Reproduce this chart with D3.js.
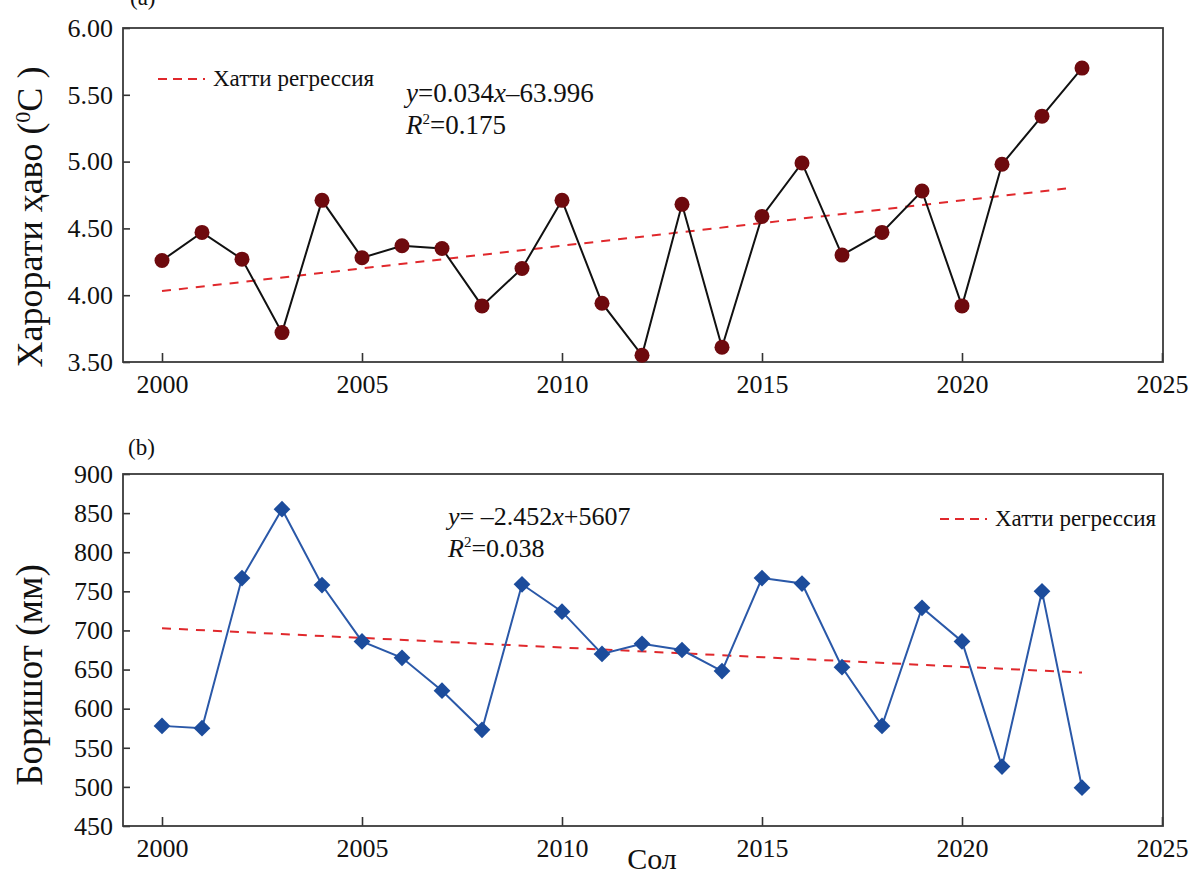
<!DOCTYPE html>
<html>
<head>
<meta charset="utf-8">
<script src="https://cdn.jsdelivr.net/npm/d3@7"></script>
<style>
  body { margin: 0; background: #fff; }
  svg { display: block; }
  svg text { font-family: "Times New Roman", "Liberation Serif", "DejaVu Serif", serif; }
</style>
</head>
<body>
<svg width="1194" height="874"></svg>
<script>
// Years on the x axis (both panels share them)
const years = [2000, 2001, 2002, 2003, 2004, 2005, 2006, 2007, 2008, 2009, 2010, 2011,
               2012, 2013, 2014, 2015, 2016, 2017, 2018, 2019, 2020, 2021, 2022, 2023]
// (a) mean air temperature, degC
const temperature = [4.26, 4.47, 4.27, 3.72, 4.71, 4.28, 4.37, 4.35, 3.92, 4.20, 4.71, 3.94,
                     3.55, 4.68, 3.61, 4.59, 4.99, 4.30, 4.47, 4.78, 3.92, 4.98, 5.34, 5.70]
// (b) precipitation, mm
const precipitation = [578, 575, 767, 855, 758, 686, 665, 623, 573, 759, 724, 670,
                       683, 675, 648, 767, 760, 653, 578, 729, 686, 526, 750, 499]

const yearTicks = [2000, 2005, 2010, 2015, 2020, 2025]
const tempTicks = [3.5, 4.0, 4.5, 5.0, 5.5, 6.0]
const precipTicks = [450, 500, 550, 600, 650, 700, 750, 800, 850, 900]

const legendLabel = 'Хатти регрессия'
const tempEquation = ['=0.034', '–63.996', '0.175']
const precipEquation = ['= –2.452', '+5607', '0.038']
// where the fitted line starts and stops
const tempFitYears = [2000, 2022.6]
const precipFitYears = [2000, 2023]

const serif = '"Times New Roman", "Liberation Serif", "DejaVu Serif", serif'
const svg = d3.select('svg').attr('font-family', serif)
const left = 123, right = 1163
const x = d3.scaleLinear().domain([1999.025, 2025.025]).range([left, right])

const red = '#e0282c'

// least squares line through a series
function fit(xs, ys) {
  const mx = d3.mean(xs), my = d3.mean(ys)
  const slope = d3.sum(xs, (v, i) => (v - mx) * (ys[i] - my)) / d3.sum(xs, v => (v - mx) ** 2)
  return v => my + slope * (v - mx)
}

function drawPanel(opts) {
  const y = d3.scaleLinear().domain(opts.domain).range([opts.bottom, opts.top])
  const g = svg.append('g')

  // axes, ticks pointing into the plot
  const ax = g.append('g')
    .attr('transform', 'translate(' + left + ',0)')
    .call(d3.axisLeft(y).tickValues(opts.ticks).tickFormat(opts.format)
      .tickSizeInner(-7).tickSizeOuter(0).tickPadding(10))
  const bx = g.append('g')
    .attr('transform', 'translate(0,' + opts.bottom + ')')
    .call(d3.axisBottom(x).tickValues(yearTicks).tickFormat(d3.format('d'))
      .tickSizeInner(-9).tickSizeOuter(0).tickPadding(13))
  ;[ax, bx].forEach(a => {
    a.select('.domain').remove()
    a.attr('font-family', serif).attr('font-size', 26)
    a.selectAll('line').attr('stroke', '#333').attr('stroke-width', 1.6)
    a.selectAll('text').attr('fill', '#111').attr('font-family', serif)
  })

  // frame
  g.append('rect')
    .attr('x', left).attr('y', opts.top)
    .attr('width', right - left).attr('height', opts.bottom - opts.top)
    .attr('fill', 'none').attr('stroke', '#3a3a3a').attr('stroke-width', 1.8)

  // regression line
  const f = fit(years, opts.values)
  g.append('line')
    .attr('x1', x(opts.fitYears[0])).attr('y1', y(f(opts.fitYears[0])))
    .attr('x2', x(opts.fitYears[1])).attr('y2', y(f(opts.fitYears[1])))
    .attr('stroke', red).attr('stroke-width', 2).attr('stroke-dasharray', '9,8')

  // data line
  const line = d3.line().x((d, i) => x(years[i])).y(d => y(d))
  g.append('path')
    .datum(opts.values)
    .attr('d', line)
    .attr('fill', 'none').attr('stroke', opts.lineColor).attr('stroke-width', 2)

  opts.markers(g, y)

  // legend
  g.append('line')
    .attr('x1', opts.legend[0]).attr('x2', opts.legend[0] + 47)
    .attr('y1', opts.legend[1]).attr('y2', opts.legend[1])
    .attr('stroke', red).attr('stroke-width', 2).attr('stroke-dasharray', '9,6')
  g.append('text')
    .attr('x', opts.legend[0] + 55).attr('y', opts.legend[1] + 7)
    .attr('font-size', 23).attr('fill', '#111')
    .text(legendLabel)

  // equation and R2
  const eq = g.append('text').attr('x', opts.eq[0]).attr('y', opts.eq[1])
    .attr('font-size', opts.eqSize).attr('fill', '#111')
  eq.append('tspan').attr('font-style', 'italic').text('y')
  eq.append('tspan').text(opts.equation[0])
  eq.append('tspan').attr('font-style', 'italic').text('x')
  eq.append('tspan').text(opts.equation[1])
  const r2 = g.append('text').attr('x', opts.eq[0]).attr('y', opts.eq[1] + 32)
    .attr('font-size', opts.eqSize).attr('fill', '#111')
  r2.append('tspan').attr('font-style', 'italic').text('R')
  r2.append('tspan').attr('font-size', 15).attr('dy', -10).text('2')
  r2.append('tspan').attr('dy', 10).text('=' + opts.equation[2])

  return g
}

// (a) temperature
drawPanel({
  top: 28, bottom: 362, domain: [3.5, 6.0], ticks: tempTicks, format: d3.format('.2f'),
  values: temperature, fitYears: tempFitYears, lineColor: '#111',
  legend: [158, 79], eq: [406, 102], eqSize: 27,
  equation: tempEquation,
  markers: (g, y) => {
    g.selectAll('.dot')
      .data(temperature)
      .enter()
      .append('circle')
        .attr('class', 'dot')
        .attr('cx', (d, i) => x(years[i]))
        .attr('cy', d => y(d))
        .attr('r', 7.5)
        .attr('fill', '#6e0a0e')
  }
})

// (b) precipitation
drawPanel({
  top: 474, bottom: 826, domain: [450, 900], ticks: precipTicks, format: d3.format('d'),
  values: precipitation, fitYears: precipFitYears, lineColor: '#2a58a8',
  legend: [940, 519], eq: [448, 525], eqSize: 26,
  equation: precipEquation,
  markers: (g, y) => {
    g.selectAll('.diamond')
      .data(precipitation)
      .enter()
      .append('path')
        .attr('class', 'diamond')
        .attr('d', d3.symbol(d3.symbolSquare, 140))
        .attr('transform', (d, i) => 'translate(' + x(years[i]) + ',' + y(d) + ') rotate(45)')
        .attr('fill', '#1c4c9c')
  }
})

// panel letters
svg.append('text').attr('x', 130).attr('y', 5).attr('font-size', 23).attr('fill', '#111').text('(a)')
svg.append('text').attr('x', 128).attr('y', 455).attr('font-size', 23).attr('fill', '#111').text('(b)')

// axis titles
const tTitle = svg.append('text')
  .attr('transform', 'translate(42,217) rotate(-90)')
  .attr('text-anchor', 'middle').attr('font-size', 36).attr('fill', '#111')
tTitle.append('tspan').text('Харорати ҳаво (')
tTitle.append('tspan').attr('font-size', 22).attr('dy', -12).text('0')
tTitle.append('tspan').attr('dy', 12).text('C )')

svg.append('text')
  .attr('transform', 'translate(42,675) rotate(-90)')
  .attr('text-anchor', 'middle').attr('font-size', 37).attr('fill', '#111')
  .text('Боришот (мм)')

svg.append('text')
  .attr('x', 652).attr('y', 869)
  .attr('text-anchor', 'middle').attr('font-size', 30).attr('fill', '#111')
  .text('Сол')
</script>
</body>
</html>
